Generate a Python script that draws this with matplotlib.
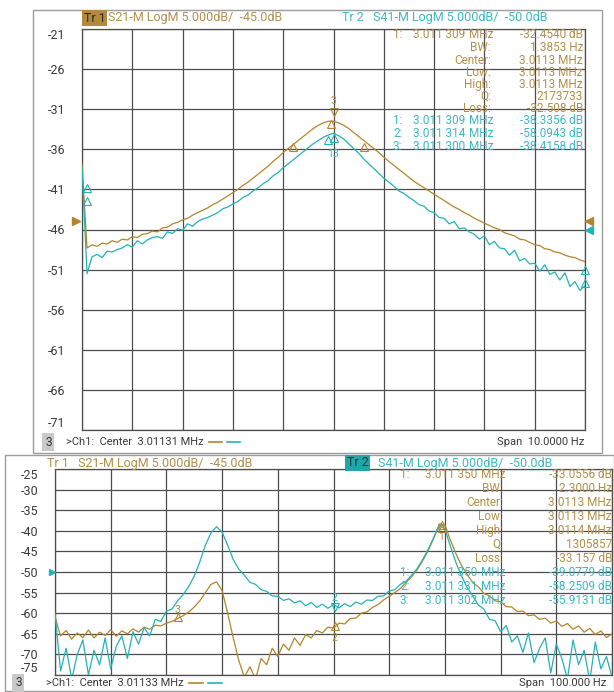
import numpy as np
import matplotlib
matplotlib.use("Agg")
import matplotlib.pyplot as plt
from matplotlib.patches import Rectangle

W, H = 614, 692
ORANGE = "#b3852a"
CYAN = "#22b2b8"
ORANGE_TXT = "#b0904a"
CYAN_TXT = "#3cb8c2"
GRID = "#4d4d4d"
TXT = "#3a3a3a"

plt.rcParams["font.family"] = ["Roboto", "DejaVu Sans"]

# ---- upper screen: Center 3.01131 MHz, Span 10 Hz (offset in Hz, 101 sweep points)
top_offset_hz = np.linspace(-5, 5, 101)
top_s21 = [
    -37.8, -48.3, -47.9, -48.1, -47.7, -47.8, -47.4, -47.6, -47.2, -47.3,
    -46.9, -47.0, -46.6, -46.5, -46.2, -46.3, -45.8, -45.7, -45.3, -45.1,
    -44.8, -44.6, -44.2, -43.9, -43.6, -43.3, -42.9, -42.6, -42.2, -41.8,
    -41.4, -41.0, -40.5, -40.1, -39.6, -39.1, -38.6, -38.1, -37.5, -37.0,
    -36.4, -35.9, -35.4, -34.9, -34.4, -33.9, -33.4, -33.0, -32.7, -32.5,
    -32.5, -32.7, -33.0, -33.4, -33.9, -34.4, -34.9, -35.4, -35.9, -36.4,
    -37.0, -37.5, -38.0, -38.5, -39.0, -39.5, -40.0, -40.4, -40.8, -41.2,
    -41.6, -42.0, -42.4, -42.8, -43.2, -43.5, -43.9, -44.2, -44.6, -44.9,
    -45.2, -45.5, -45.8, -46.0, -46.4, -46.6, -46.8, -47.2, -47.3, -47.6,
    -47.9, -48.0, -48.4, -48.5, -48.8, -48.9, -49.2, -49.4, -49.5, -49.8,
    -50.0,
]
top_s41 = [
    -38.3, -51.5, -49.4, -49.1, -49.5, -48.7, -48.8, -48.5, -48.3, -47.9,
    -48.2, -47.4, -47.8, -47.3, -47.0, -46.9, -47.1, -46.3, -46.5, -45.9,
    -46.1, -45.3, -45.6, -45.0, -44.7, -44.5, -44.2, -43.9, -43.4, -43.2,
    -42.8, -42.5, -42.0, -41.7, -41.2, -40.8, -40.3, -39.9, -39.3, -38.9,
    -38.3, -37.8, -37.3, -36.8, -36.3, -35.8, -35.3, -34.9, -34.5, -34.2,
    -34.0, -34.3, -34.7, -35.3, -35.9, -36.5, -37.2, -37.8, -38.4, -39.0,
    -39.6, -40.1, -40.6, -41.2, -41.5, -42.0, -42.4, -42.9, -43.1, -43.7,
    -43.9, -44.5, -44.6, -45.3, -45.0, -45.9, -45.8, -46.3, -46.6, -47.2,
    -46.8, -47.9, -47.5, -48.3, -48.4, -49.2, -48.6, -49.9, -49.6, -50.3,
    -50.2, -51.2, -50.4, -51.6, -51.3, -52.3, -51.4, -53.1, -52.5, -53.6,
    -53.0,
]
top_yticks = [-21, -26, -31, -36, -41, -46, -51, -56, -61, -66, -71]

# ---- lower screen: Center 3.01133 MHz, Span 100 Hz
bot_offset_hz = np.linspace(-50, 50, 101)
bot_s21 = [
    -61.0, -65.5, -64.2, -66.3, -64.8, -65.9, -64.1, -66.0, -64.6, -65.4,
    -64.0, -65.6, -64.3, -65.0, -63.8, -64.6, -63.4, -63.9, -62.9, -63.1,
    -62.4, -62.0, -61.3, -60.6, -59.7, -58.5, -57.0, -55.0, -53.0, -52.4,
    -54.5, -60.0, -66.0, -71.5, -75.5, -73.0, -76.0, -71.0, -72.5, -68.5,
    -70.5, -67.5, -69.0, -66.0, -67.8, -65.2, -66.0, -64.2, -64.8, -63.4,
    -63.6, -62.4, -62.6, -61.3, -61.2, -60.0, -59.7, -58.6, -57.9, -56.8,
    -55.9, -55.0, -54.0, -52.6, -51.2, -49.5, -47.3, -44.8, -41.8, -38.3,
    -38.6, -42.3, -45.6, -48.5, -50.6, -52.6, -53.6, -55.2, -55.8, -57.0,
    -57.2, -58.4, -58.5, -59.6, -59.5, -60.6, -60.4, -61.5, -61.2, -62.4,
    -61.9, -63.2, -62.5, -63.9, -63.1, -64.6, -63.7, -65.2, -64.3, -65.9,
    -65.0,
]
bot_s41 = [
    -60.0, -74.0, -68.5, -76.0, -70.0, -66.5, -75.0, -69.0, -72.5, -66.0,
    -73.5, -68.0, -65.5, -71.0, -64.5, -67.5, -63.5, -65.5, -61.5, -62.0,
    -59.5, -59.0, -57.0, -55.5, -53.5, -51.0, -47.5, -43.5, -40.5, -39.0,
    -40.3, -43.5, -47.0, -49.3, -50.8, -52.5, -53.0, -54.3, -54.7, -55.8,
    -55.9, -56.9, -56.5, -57.5, -57.0, -58.2, -57.4, -58.6, -57.8, -58.8,
    -57.9, -58.7, -57.7, -58.4, -57.3, -57.8, -56.8, -56.9, -55.9, -55.8,
    -54.6, -54.3, -53.0, -52.3, -50.8, -49.2, -47.0, -44.5, -41.6, -38.6,
    -39.6, -43.8, -47.8, -51.0, -53.8, -55.8, -58.0, -59.0, -61.5, -61.8,
    -64.5, -63.0, -67.0, -65.5, -69.5, -64.8, -72.0, -68.5, -66.0, -74.5,
    -67.5, -71.0, -76.0, -66.5, -72.5, -69.0, -76.5, -67.0, -73.5, -70.5,
    -75.5,
]
bot_yticks = [-25, -30, -35, -40, -45, -50, -55, -60, -65, -70, -75]

# marker readouts
table_labels = ["BW:", "Center:", "Low:", "High:", "Q:", "Loss:"]
top_table_values = ["1.3853 Hz", "3.0113 MHz", "3.0113 MHz", "3.0113 MHz", "2173733", "-32.508 dB"]
top_tr1_marker = ("1:", "3.011 309", "-32.4540 dB")
top_tr2_markers = [("1:", "3.011 309", "-38.3356 dB"),
                   ("2:", "3.011 314", "-58.0943 dB"),
                   ("3:", "3.011 300", "-38.4158 dB")]
bot_table_values = ["2.3000 Hz", "3.0113 MHz", "3.0113 MHz", "3.0114 MHz", "1305857", "-33.157 dB"]
bot_tr1_marker = ("1:", "3.011 350", "-33.0556 dB")
bot_tr2_markers = [("1:", "3.011 350", "-39.0779 dB"),
                   ("2:", "3.011 331", "-58.2509 dB"),
                   ("3:", "3.011 302", "-55.9131 dB")]

fig = plt.figure(figsize=(W / 100, H / 100), dpi=100)


def fbox(x0, y0, x1, y1):
    return [x0 / W, 1 - y1 / H, (x1 - x0) / W, (y1 - y0) / H]


def ptext(x, y, s, **kw):
    kw.setdefault("va", "center")
    return fig.text(x / W, 1 - y / H, s, **kw)


def dash(x0, x1, y, color):
    fig.add_artist(plt.Line2D([x0 / W, x1 / W], [1 - y / H] * 2, color=color, lw=1.2))


# screen frames
for x0, y0, x1, y1 in [(33, 10, 602, 453), (5, 455, 614, 691)]:
    fig.add_artist(Rectangle((x0 / W, 1 - y1 / H), (x1 - x0) / W, (y1 - y0) / H,
                             transform=fig.transFigure, fill=False, ec="#9c9c9c", lw=1.0))


def style_axes(ax, xlim, yticks, pad):
    ax.set_xlim(*xlim)
    ax.set_ylim(yticks[-1], yticks[0])
    ax.set_xticks(np.linspace(xlim[0], xlim[1], 11))
    ax.set_xticklabels([])
    ax.set_yticks(yticks)
    ax.set_yticklabels([str(t) for t in yticks], fontsize=9, color=TXT)
    ax.tick_params(length=0, pad=pad)
    ax.grid(True, color=GRID, lw=0.9)
    for sp in ax.spines.values():
        sp.set_color(GRID)
        sp.set_linewidth(0.9)


def readout(rows, x_num, x_freq, x_mhz, x_lab, x_val, tr1, labels, values, tr2, fs):
    y = rows[0]
    ptext(x_num, y, tr1[0], fontsize=fs, color=ORANGE_TXT)
    ptext(x_freq, y, tr1[1], fontsize=fs, color=ORANGE_TXT, ha="right")
    ptext(x_mhz, y, "MHz", fontsize=fs, color=ORANGE_TXT)
    ptext(x_val, y, tr1[2], fontsize=fs, color=ORANGE_TXT, ha="right")
    for y, lab, val in zip(rows[1:7], labels, values):
        ptext(x_lab, y, lab, fontsize=fs, color=ORANGE_TXT, ha="right")
        ptext(x_val, y, val, fontsize=fs, color=ORANGE_TXT, ha="right")
    for y, (n, f, v) in zip(rows[7:], tr2):
        ptext(x_num, y, n, fontsize=fs, color=CYAN_TXT)
        ptext(x_freq, y, f, fontsize=fs, color=CYAN_TXT, ha="right")
        ptext(x_mhz, y, "MHz", fontsize=fs, color=CYAN_TXT)
        ptext(x_val, y, v, fontsize=fs, color=CYAN_TXT, ha="right")


tri = dict(ls="none", mfc="none", ms=6, mew=0.8, zorder=4, clip_on=False)

# ---------------- upper screen
ax1 = fig.add_axes(fbox(82, 29, 585, 430))
style_axes(ax1, (-5, 5), top_yticks, 12)
ax1.get_yticklabels()[0].set_va("top")
ax1.get_yticklabels()[-1].set_va("bottom")
ax1.plot(top_offset_hz, top_s21, color=ORANGE, lw=0.9, zorder=3)
ax1.plot(top_offset_hz, top_s41, color=CYAN, lw=0.9, zorder=3)

ax1.plot([0.0], [-31.3], marker="v", mec=ORANGE, **tri)
ax1.text(0.0, -30.0, "3", color=ORANGE_TXT, fontsize=7.5, ha="center", va="center")
ax1.plot([-0.05], [-32.9], marker="^", mec=ORANGE, **tri)
ax1.plot([-0.8, 0.6], [-35.7, -35.7], marker="^", mec=ORANGE, **tri)
ax1.plot([-0.1, 0.0], [-34.9, -34.6], marker="^", mec=CYAN, **tri)
ax1.text(0.0, -36.6, "13", color=CYAN_TXT, fontsize=7.5, ha="center", va="center")
ax1.plot([-4.9, -4.9], [-40.8, -42.4], marker="^", mec=CYAN, **tri)
ax1.plot([5.0, 5.0], [-51.0, -52.7], marker="^", mec=CYAN, **tri)
ax1.plot([-5.12], [-45.0], marker=">", color=ORANGE, ms=6, clip_on=False, zorder=5)
ax1.plot([5.08], [-45.0], marker="<", color=ORANGE, ms=6, clip_on=False, zorder=5)
ax1.plot([5.08], [-46.0], marker="<", color=CYAN, ms=6, clip_on=False, zorder=5)

ptext(84, 18, "Tr 1", fontsize=9, color="#2a2a2a",
      bbox=dict(fc="#b28a3a", ec="none", pad=1.2))
ptext(108, 18, "S21-M LogM 5.000dB/  -45.0dB", fontsize=9, color=ORANGE_TXT)
ptext(342, 18, "Tr 2   S41-M LogM 5.000dB/  -50.0dB", fontsize=9, color=CYAN_TXT)

readout([35, 47.5, 60, 72, 84.5, 96.5, 109, 121, 133.5, 146],
        393, 465, 469, 491, 583, top_tr1_marker, table_labels, top_table_values,
        top_tr2_markers, 8.5)

ptext(45, 442, "3", fontsize=8.5, color="#333333",
      bbox=dict(fc="#c9c9c9", ec="none", pad=2.0))
ptext(66, 442, ">Ch1:  Center  3.01131 MHz", fontsize=8, color=TXT)
dash(209, 222, 442, ORANGE)
dash(227, 240, 442, CYAN)
ptext(584, 442, "Span  10.0000 Hz", fontsize=8, color=TXT, ha="right")

# ---------------- lower screen
ax2 = fig.add_axes(fbox(55, 469, 612, 675))
style_axes(ax2, (-50, 50), bot_yticks, 12)
ax2.get_yticklabels()[0].set_va("top")
ax2.get_yticklabels()[-1].set_va("bottom")
ax2.plot(bot_offset_hz, bot_s21, color=ORANGE, lw=0.9, zorder=3)
ax2.plot(bot_offset_hz, bot_s41, color=CYAN, lw=0.9, zorder=3)

ax2.plot([-28], [-61.0], marker="^", mec=ORANGE, **tri)
ax2.text(-28, -59.2, "3", color=ORANGE_TXT, fontsize=7.5, ha="center", va="center")
ax2.plot([0.2], [-58.6], marker="v", mec=CYAN, **tri)
ax2.text(0.2, -56.3, "2", color=CYAN_TXT, fontsize=7.5, ha="center", va="center")
ax2.plot([0.2], [-63.0], marker="^", mec=ORANGE, **tri)
ax2.text(0.2, -66.0, "2", color=ORANGE_TXT, fontsize=7.5, ha="center", va="center")
ax2.plot([19.4, 19.4], [-38.5, -39.3], marker="^", mec=ORANGE, **tri)
ax2.text(19.4, -41.5, "1", color=ORANGE_TXT, fontsize=7.5, ha="center", va="center")
ax2.plot([-50.6], [-50.0], marker=">", color=CYAN, ms=5, clip_on=False, zorder=5)

ptext(47, 463, "Tr 1   S21-M LogM 5.000dB/  -45.0dB", fontsize=9, color=ORANGE_TXT)
ptext(347, 463, "Tr 2", fontsize=9, color="#1c3b3c",
      bbox=dict(fc="#1fa6a8", ec="none", pad=1.2))
ptext(378, 463, "S41-M LogM 5.000dB/  -50.0dB", fontsize=9, color=CYAN_TXT)

readout([475, 489, 503, 517, 530.5, 544, 558, 572, 586, 600],
        400, 477, 481, 503, 612, bot_tr1_marker, table_labels, bot_table_values,
        bot_tr2_markers, 8.5)

ptext(15, 683, "3", fontsize=8.5, color="#333333",
      bbox=dict(fc="#c9c9c9", ec="none", pad=2.0))
ptext(46, 683, ">Ch1:  Center  3.01133 MHz", fontsize=8, color=TXT)
dash(189, 203, 683, ORANGE)
dash(208, 222, 683, CYAN)
ptext(606, 683, "Span  100.000 Hz", fontsize=8, color=TXT, ha="right")

fig.savefig("out.png", dpi=100)
